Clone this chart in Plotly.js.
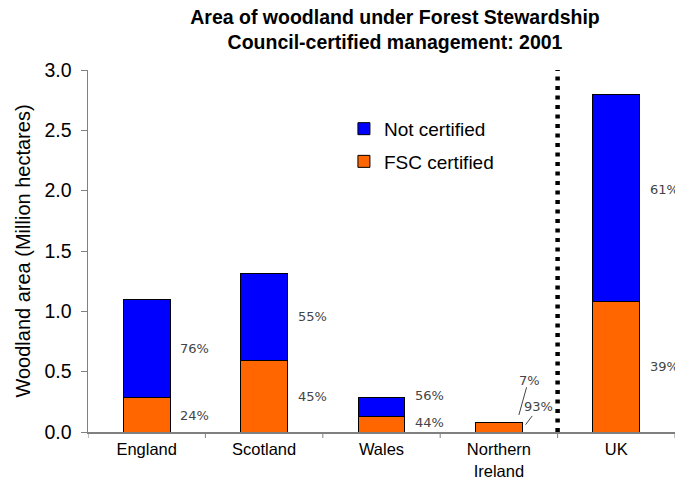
<!DOCTYPE html>
<html><head><meta charset="utf-8">
<script src="https://cdn.plot.ly/plotly-3.0.1.min.js"></script>
<style>html,body{margin:0;padding:0;background:#fff}#chart{width:675px;height:480px}</style>
</head><body><div id="chart"></div>
<script>
const categories = ["England", "Scotland", "Wales", "Northern<br>Ireland", "UK"];
const fscCertified = [0.29, 0.594, 0.127, 0.075, 1.085];
const notCertified = [0.81, 0.723, 0.161, 0.006, 1.71];
const pctFsc = ["24%", "45%", "44%", "93%", "39%"];
const pctNot = ["76%", "55%", "56%", "7%", "61%"];
const yTicks = [0, 0.5, 1.0, 1.5, 2.0, 2.5, 3.0];

const idx = categories.map((c, i) => i);
const barLine = {color: "#000", width: 1};

const traces = [
  {type: "bar", name: "FSC certified", legendgroup: "fsc", legendrank: 2, x: idx, y: fscCertified, width: 0.4,
   marker: {color: "#FF6600", line: barLine}, hoverinfo: "none"},
  {type: "bar", name: "Not certified", legendgroup: "not", legendrank: 1, x: idx, y: notCertified, width: 0.4,
   marker: {color: "#0000FF", line: barLine}, hoverinfo: "none"}
];

const labelFont = {family: "DejaVu Sans, sans-serif", size: 13, color: "#444"};
// pixel nudges for crowded labels
const shiftFsc = [-1, 0, 2, 0, 0];
const shiftNot = [0, 0, 11, 0, 8];
const annotations = [];
idx.forEach(i => {
  const total = fscCertified[i] + notCertified[i];
  if (i === 3) {
    annotations.push({x: i, y: total, xref: "x", yref: "y", text: pctNot[i], showarrow: false,
      xshift: 31, yshift: 42, font: labelFont});
    annotations.push({x: i, y: total, xref: "x", yref: "y", text: pctFsc[i], showarrow: false,
      xshift: 40, yshift: 16, font: labelFont});
  } else {
    annotations.push({x: i + 0.41, y: fscCertified[i] / 2, xref: "x", yref: "y", text: pctFsc[i],
      showarrow: false, yshift: shiftFsc[i], font: labelFont});
    annotations.push({x: i + 0.41, y: fscCertified[i] + notCertified[i] / 2, xref: "x", yref: "y",
      text: pctNot[i], showarrow: false, yshift: shiftNot[i], font: labelFont});
  }
});

const niTotal = fscCertified[3] + notCertified[3];
const shapes = [
  {type: "line", xref: "x", yref: "y", x0: 3.5, x1: 3.5, y0: 0, y1: yTicks[yTicks.length - 1],
   line: {color: "#000", width: 4.5, dash: "4px,5.5px"}},
  {type: "line", xref: "x", yref: "y", xsizemode: "pixel", ysizemode: "pixel", xanchor: 3, yanchor: niTotal,
   x0: 27.7, y0: 35, x1: 20, y1: 7.3, line: {color: "#444", width: 1}},
  {type: "line", xref: "x", yref: "y", xsizemode: "pixel", ysizemode: "pixel", xanchor: 3, yanchor: niTotal,
   x0: 33.3, y0: 6.3, x1: 26.7, y1: -2.4, line: {color: "#444", width: 1}}
].concat([-0.5, 0.5, 1.5, 2.5, 3.5, 4.5].map(b => ({type: "line", xref: "x", yref: "paper",
  ysizemode: "pixel", yanchor: 0, x0: b, x1: b, y0: 0, y1: -6, line: {color: "#808080", width: 1}})));

const layout = {
  width: 675, height: 480,
  margin: {l: 88, r: 0, t: 70, b: 48, pad: 0},
  paper_bgcolor: "#fff", plot_bgcolor: "#fff",
  barmode: "stack",
  font: {family: "Liberation Sans, Arial, sans-serif", color: "#000"},
  title: {text: "<b>Area of woodland under Forest Stewardship<br>Council-certified management: 2001</b>",
    font: {family: "Liberation Sans, Arial, sans-serif", size: 19.5, color: "#000"},
    x: 0.523, xref: "paper", xanchor: "center", y: 0.95, yref: "container", yanchor: "top"},
  showlegend: true,
  legend: {x: 0.436, y: 0.89, xanchor: "left", yanchor: "top", traceorder: "grouped",
    font: {family: "Liberation Sans, Arial, sans-serif", size: 19, color: "#000"},
    bgcolor: "rgba(0,0,0,0)", tracegroupgap: 5},
  xaxis: {type: "linear", range: [-0.5, 4.5], tickvals: idx, ticktext: categories,
    showline: true, linecolor: "#808080", linewidth: 1.5, ticks: "", showgrid: false, zeroline: false,
    tickfont: {size: 16.5, color: "#000"}, ticklabelstandoff: 2, fixedrange: true},
  yaxis: {range: [0, 3.0], tickvals: yTicks, tickformat: ".1f", showline: true, linecolor: "#808080",
    linewidth: 1.5, ticks: "outside", ticklen: 6, tickcolor: "#808080", showgrid: false, zeroline: false,
    tickfont: {size: 19.5, color: "#000"}, ticklabelstandoff: 5,
    title: {text: "Woodland area (Million hectares)", font: {size: 20, color: "#000"}, standoff: 8}},
  annotations: annotations,
  shapes: shapes
};

Plotly.newPlot("chart", traces, layout, {displayModeBar: false, staticPlot: true});
</script></body></html>
